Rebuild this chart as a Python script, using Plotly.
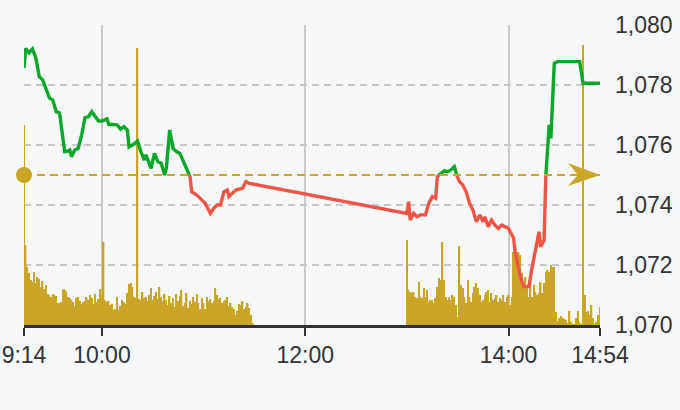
import plotly.graph_objects as go
import pandas as pd

DAY = "2024-05-14 "
REF_PRICE = 1075.0

# ---- price (time, value) ----
price_times = [
    "09:14", "09:15", "09:17", "09:19", "09:21", "09:23", "09:25", "09:29", "09:31", "09:33",
    "09:35", "09:38", "09:40", "09:41", "09:42", "09:44", "09:46", "09:48", "09:50", "09:52",
    "09:54", "09:56", "09:58", "10:00", "10:03", "10:04", "10:07", "10:09", "10:11", "10:13",
    "10:15", "10:16", "10:18", "10:21", "10:23", "10:25", "10:26", "10:27", "10:29", "10:31",
    "10:33", "10:35", "10:37", "10:38", "10:40", "10:42", "10:44", "10:46", "10:48", "10:50",
    "10:52", "10:53", "10:56", "10:58", "10:59", "11:01", "11:03", "11:04", "11:06", "11:08",
    "11:10", "11:12", "11:14", "11:15", "11:17", "11:19", "11:23", "11:25", "11:27", "11:29",
    "13:00", "13:01", "13:02", "13:04", "13:06", "13:08", "13:11", "13:13", "13:15", "13:17",
    "13:18", "13:20", "13:22", "13:24", "13:26", "13:28", "13:29", "13:31", "13:33", "13:35",
    "13:37", "13:39", "13:41", "13:43", "13:45", "13:46", "13:48", "13:50", "13:52", "13:54",
    "13:56", "13:58", "14:00", "14:01", "14:03", "14:04", "14:07", "14:09", "14:12", "14:14",
    "14:17", "14:18", "14:19", "14:21", "14:22", "14:23", "14:24", "14:25", "14:26", "14:27",
    "14:29", "14:42", "14:44", "14:54",
]
price_values = [
    1078.57, 1079.22, 1079.07, 1079.20, 1078.90, 1078.28, 1078.17, 1077.57, 1077.50, 1077.11,
    1077.07, 1075.78, 1075.80, 1075.83, 1075.61, 1075.83, 1075.89, 1076.33, 1076.91, 1076.94,
    1077.11, 1076.94, 1076.80, 1076.80, 1076.87, 1076.69, 1076.69, 1076.67, 1076.53, 1076.61,
    1076.50, 1075.94, 1076.00, 1076.13, 1075.78, 1075.50, 1075.67, 1075.50, 1075.22, 1075.72,
    1075.44, 1075.39, 1075.00, 1075.22, 1076.50, 1075.89, 1075.78, 1075.72, 1075.44, 1075.22,
    1074.94, 1074.44, 1074.33, 1074.22, 1074.17, 1074.06, 1073.83, 1073.72, 1073.89, 1074.00,
    1074.00, 1074.44, 1074.50, 1074.28, 1074.39, 1074.50, 1074.56, 1074.78, 1074.72, 1074.70,
    1073.72, 1074.11, 1073.50, 1073.72, 1073.61, 1073.67, 1073.67, 1074.06, 1074.28, 1074.22,
    1074.94, 1075.06, 1075.14, 1075.11, 1075.17, 1075.28, 1075.06, 1074.78, 1074.67, 1074.44,
    1074.06, 1073.83, 1073.44, 1073.67, 1073.44, 1073.61, 1073.28, 1073.50, 1073.33, 1073.22,
    1073.33, 1073.28, 1073.22, 1073.11, 1072.89, 1072.39, 1071.61, 1071.28, 1071.28, 1071.94,
    1072.94, 1073.11, 1072.61, 1072.83, 1074.94, 1075.94, 1076.67, 1076.22, 1077.83, 1078.72,
    1078.78, 1078.78, 1078.06, 1078.06,
]

# ---- volume per minute (thousands) ----
vol_morning_start = "09:14"
vol_morning = [
    200, 80, 58, 52, 45, 43, 53, 42, 48, 46, 38, 44, 36, 40, 31, 30, 28, 31, 30, 29,
    22, 22, 23, 35, 36, 34, 28, 27, 25, 23, 19, 27, 28, 24, 21, 23, 24, 28, 25, 30,
    27, 21, 31, 23, 26, 36,
    30, 83,
    25, 23, 24, 20, 21, 15, 16, 28, 15, 19, 25, 23, 21, 32, 41, 42, 38, 28, 27, 277,
    26, 25, 33, 27, 28, 24, 30, 37, 25, 29, 33, 26, 38, 28, 24, 31, 25, 20, 29, 22,
    27, 18, 31, 24, 29, 35, 19, 22, 32, 17, 24, 21, 28, 23, 31, 22,
    16, 27, 22, 16, 28, 24, 26, 22, 24, 37, 30, 26, 27, 22, 24, 25, 28, 19, 22, 18,
    16, 10, 14, 21, 20, 24, 16, 18, 22, 17, 10, 2,
]
vol_afternoon_start = "13:00"
vol_afternoon = [
    85, 35, 33, 32, 33, 28, 27, 43, 28, 27, 37, 28, 35, 23, 25, 25, 22, 27, 38, 47,
    45, 83, 45, 28, 25, 28, 25, 30, 28, 20, 8, 79, 40, 37, 28, 22, 45, 28, 23, 32,
    38, 42, 37, 30, 23, 25, 30, 33, 35, 23, 32, 25, 27, 30, 23, 27, 25, 30, 23, 28,
    30, 20, 28, 73, 68, 65, 73, 70, 52, 37, 48, 40, 28, 42, 28, 40, 33, 30, 32, 43,
    32, 42, 53, 55, 53, 60, 58, 58, 13, 4, 7, 9, 7, 6, 5, 2, 14, 3, 1, 1,
    7, 14, 3, 1, 280, 30, 13, 14, 10, 20, 7, 1, 3, 10, 18,
]

x_tick_times = ["09:14", "10:00", "12:00", "14:00", "14:54"]
x_tick_labels = ["9:14", "10:00", "12:00", "14:00", "14:54"]
y_ticks = [1070, 1072, 1074, 1076, 1078, 1080]

GREEN = "#0aa82a"
RED = "#f05546"
GOLD = "#cba626"
GRID = "#c9c9c9"
BG = "#f7f8fa"

# split the price line into up (green) / down (red) pieces at the reference price
t = pd.to_datetime([DAY + s for s in price_times])
xs, ys = [], []
for i in range(len(t)):
    if i > 0:
        p0, p1 = price_values[i - 1], price_values[i]
        if (p0 - REF_PRICE) * (p1 - REF_PRICE) < 0:
            f = (REF_PRICE - p0) / (p1 - p0)
            xs.append(t[i - 1] + (t[i] - t[i - 1]) * f)
            ys.append(REF_PRICE)
    xs.append(t[i])
    ys.append(price_values[i])
green_y = [y if y >= REF_PRICE else None for y in ys]
red_y = [y if y <= REF_PRICE else None for y in ys]

vt = list(pd.date_range(DAY + vol_morning_start, periods=len(vol_morning), freq="min")) + \
     list(pd.date_range(DAY + vol_afternoon_start, periods=len(vol_afternoon), freq="min"))
vv = vol_morning + vol_afternoon

fig = go.Figure()
fig.add_trace(go.Bar(x=vt, y=vv, yaxis="y", marker=dict(color=GOLD, line=dict(width=0)),
                     hoverinfo="skip"))
fig.add_trace(go.Scatter(x=xs, y=red_y, yaxis="y2", mode="lines",
                         line=dict(color=RED, width=3.4), connectgaps=False))
fig.add_trace(go.Scatter(x=xs, y=green_y, yaxis="y2", mode="lines",
                         line=dict(color=GREEN, width=3.4), connectgaps=False))
fig.add_trace(go.Scatter(x=[DAY + "09:14"], y=[REF_PRICE], yaxis="y2", mode="markers",
                         marker=dict(color=GOLD, size=16), cliponaxis=False))

fig.add_shape(type="line", xref="x", yref="y2", x0=DAY + "09:14", x1=DAY + "14:54",
              y0=REF_PRICE, y1=REF_PRICE, line=dict(color=GOLD, width=2, dash="8px,5px"))
fig.add_shape(type="path", xref="x", yref="y2", xsizemode="pixel", ysizemode="pixel",
              xanchor=DAY + "14:54", yanchor=REF_PRICE,
              path="M0,0 L-32,12 L-22,0 L-32,-11 Z",
              fillcolor=GOLD, line=dict(width=0))

fig.update_layout(
    width=680, height=410,
    margin=dict(l=24, r=80, t=25, b=85, autoexpand=False),
    paper_bgcolor=BG, plot_bgcolor=BG,
    showlegend=False, bargap=0.15,
    font=dict(family="Liberation Sans, Arial, sans-serif", size=23, color="#333333"),
    xaxis=dict(type="date", range=[DAY + "09:14", DAY + "14:54"],
               tickvals=[DAY + s for s in x_tick_times], ticktext=x_tick_labels,
               showgrid=True, gridcolor=GRID, gridwidth=1.5, automargin=False,
               ticklabeloverflow="allow",
               ticks="outside", ticklen=8, tickwidth=2, tickcolor="#333333",
               showline=True, linecolor="#333333", linewidth=2.5, zeroline=False),
    yaxis=dict(range=[0, 300], visible=False, automargin=False),
    yaxis2=dict(overlaying="y", side="right", range=[1070, 1080], tickvals=y_ticks,
                tickformat=",d", showgrid=True, gridcolor=GRID, gridwidth=2,
                griddash="7px,5px", zeroline=False, ticks="", ticklabelstandoff=14,
                ticklabeloverflow="allow",
                showline=False, automargin=False),
)

fig.write_html("out.html",
               config={"displayModeBar": False},
               post_script="document.body.style.margin='0';"
                           "document.body.style.overflow='hidden';"
                           "document.body.style.background='" + BG + "';")
